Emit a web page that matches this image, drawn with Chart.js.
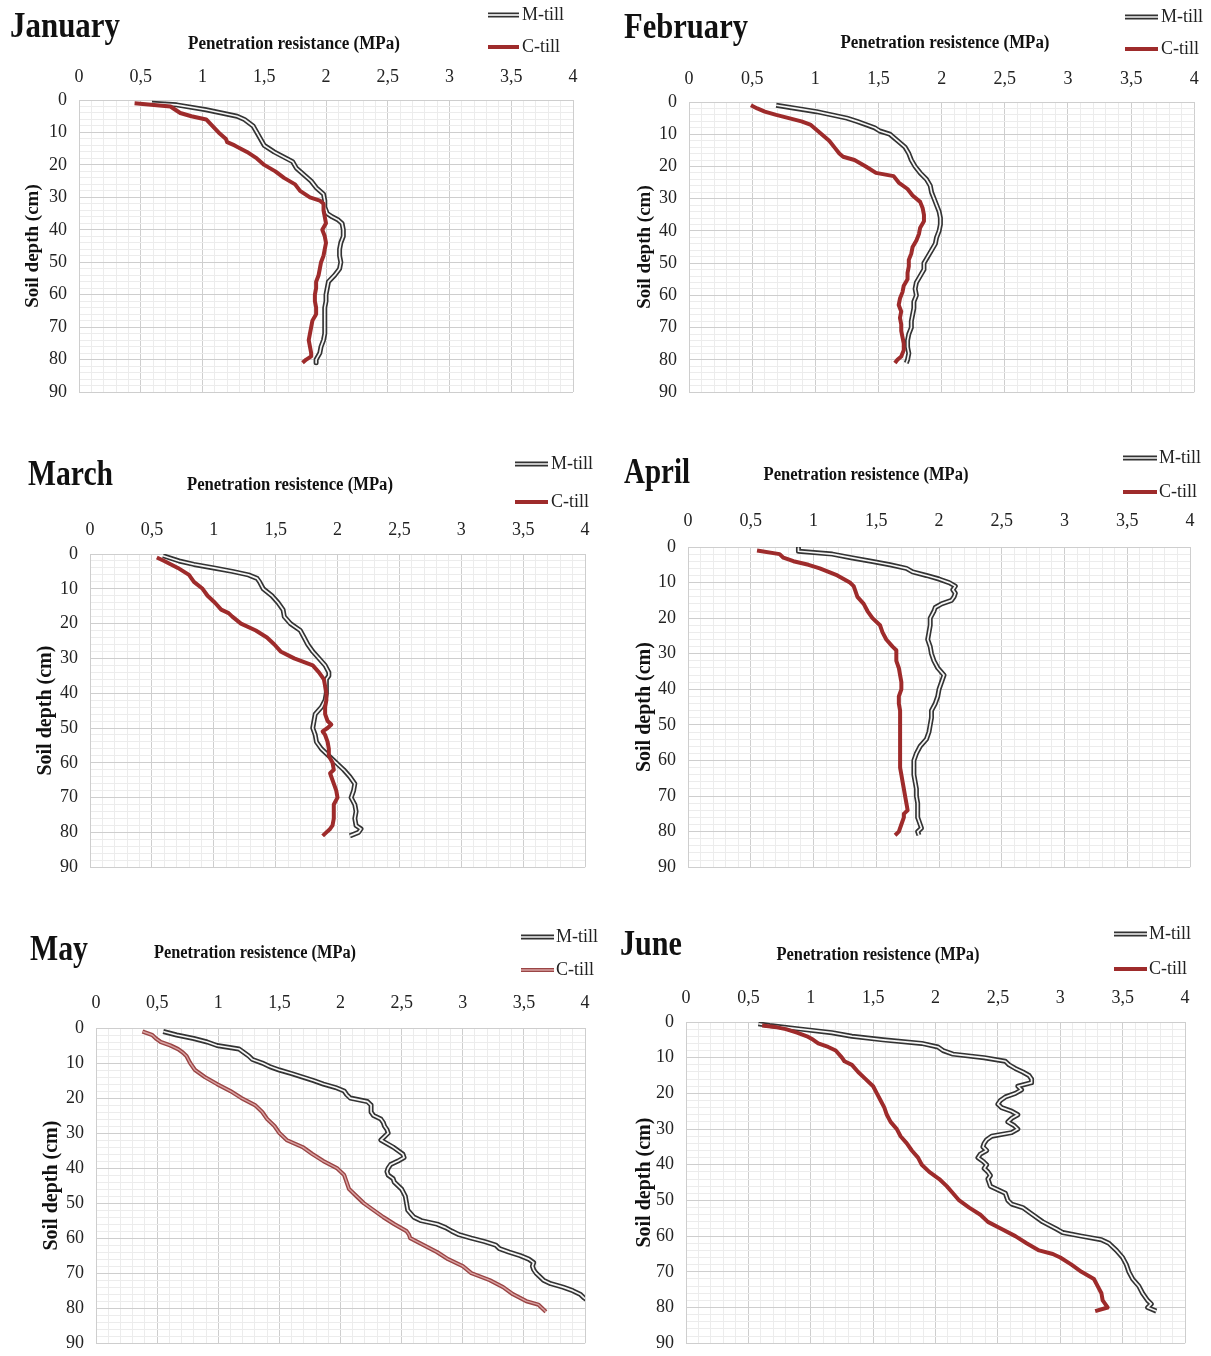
<!DOCTYPE html>
<html>
<head>
<meta charset="utf-8">
<title>Penetration resistance by month</title>
<script src="https://cdn.jsdelivr.net/npm/chart.js@4.4.1/dist/chart.umd.min.js"></script>
<style>
  body { margin: 0; background: #fff; width: 1211px; height: 1356px; position: relative; overflow: hidden; }
  canvas { position: absolute; }
</style>
</head>
<body>
<canvas id="c0"></canvas>
<canvas id="c1"></canvas>
<canvas id="c2"></canvas>
<canvas id="c3"></canvas>
<canvas id="c4"></canvas>
<canvas id="c5"></canvas>
<script>
// ---- data: depth (cm) and penetration resistance (MPa) ----
var janMDepth = [1, 1.5, 3, 5, 6, 8, 10, 12, 14, 16, 18, 19, 21, 23, 25, 27, 28, 29, 31, 33, 35, 36, 37, 38, 40, 42, 44, 46, 48, 50, 52, 54, 56, 58, 60, 62, 64, 66, 68, 70, 72, 74, 76, 78, 80, 81];
var janM = [0.59, 0.79, 1.03, 1.28, 1.34, 1.41, 1.44, 1.47, 1.50, 1.58, 1.68, 1.73, 1.76, 1.82, 1.88, 1.92, 1.95, 1.98, 1.99, 1.99, 2.01, 2.05, 2.10, 2.13, 2.14, 2.14, 2.12, 2.11, 2.11, 2.12, 2.11, 2.07, 2.02, 2.01, 2.00, 2.00, 1.99, 1.99, 1.99, 1.99, 1.99, 1.98, 1.96, 1.95, 1.92, 1.92];
var janCDepth = [1, 2, 4, 5, 6, 8, 10, 12, 13, 14, 16, 18, 20, 22, 24, 26, 28, 30, 31, 32, 34, 36, 38, 40, 42, 44, 46, 48, 50, 52, 54, 56, 58, 60, 62, 64, 66, 68, 70, 72, 74, 76, 78, 79, 80, 81];
var janC = [0.45, 0.74, 0.82, 0.91, 1.03, 1.08, 1.13, 1.19, 1.20, 1.26, 1.36, 1.44, 1.50, 1.59, 1.66, 1.75, 1.79, 1.87, 1.95, 1.98, 1.98, 1.99, 2.00, 1.97, 1.99, 2.00, 1.99, 1.98, 1.96, 1.95, 1.94, 1.92, 1.92, 1.91, 1.91, 1.92, 1.92, 1.89, 1.88, 1.87, 1.86, 1.87, 1.88, 1.88, 1.84, 1.81];

var febMDepth = [1, 2, 3, 4, 5, 6, 7, 8, 9, 10, 12, 14, 16, 18, 20, 22, 24, 26, 28, 30, 32, 34, 36, 38, 40, 42, 44, 46, 48, 50, 52, 54, 56, 58, 60, 62, 64, 66, 68, 70, 72, 74, 76, 78, 80, 81];
var febM = [0.69, 0.85, 1.01, 1.13, 1.25, 1.33, 1.40, 1.47, 1.51, 1.59, 1.65, 1.71, 1.74, 1.76, 1.79, 1.83, 1.88, 1.91, 1.92, 1.94, 1.96, 1.98, 1.99, 1.99, 1.98, 1.96, 1.95, 1.92, 1.89, 1.86, 1.86, 1.83, 1.80, 1.79, 1.80, 1.78, 1.78, 1.77, 1.76, 1.76, 1.74, 1.73, 1.73, 1.74, 1.73, 1.72];
var febCDepth = [1, 2, 3, 4, 5, 6, 7, 8, 10, 12, 14, 16, 17, 18, 20, 22, 23, 25, 27, 29, 31, 33, 35, 37, 39, 41, 43, 45, 47, 49, 51, 53, 55, 57, 59, 61, 63, 65, 67, 69, 71, 73, 75, 77, 79, 80, 81];
var febC = [0.49, 0.54, 0.60, 0.69, 0.79, 0.89, 0.96, 0.99, 1.05, 1.11, 1.15, 1.19, 1.22, 1.31, 1.40, 1.48, 1.62, 1.66, 1.73, 1.77, 1.83, 1.85, 1.86, 1.86, 1.83, 1.82, 1.80, 1.77, 1.76, 1.74, 1.74, 1.73, 1.73, 1.70, 1.69, 1.67, 1.66, 1.68, 1.67, 1.68, 1.68, 1.69, 1.70, 1.70, 1.68, 1.65, 1.63];

var marMDepth = [0.5, 2, 3, 4, 5, 6, 7, 8, 10, 12, 14, 16, 18, 20, 22, 24, 26, 28, 30, 32, 34, 35, 36, 38, 40, 42, 44, 46, 48, 50, 52, 54, 56, 58, 60, 62, 64, 66, 68, 70, 72, 74, 76, 78, 79, 80, 81];
var marM = [0.59, 0.72, 0.84, 1.00, 1.15, 1.28, 1.35, 1.37, 1.40, 1.47, 1.52, 1.56, 1.57, 1.62, 1.70, 1.73, 1.76, 1.80, 1.85, 1.90, 1.93, 1.93, 1.91, 1.91, 1.91, 1.90, 1.87, 1.82, 1.81, 1.80, 1.82, 1.83, 1.87, 1.93, 1.99, 2.05, 2.10, 2.14, 2.13, 2.11, 2.14, 2.15, 2.14, 2.15, 2.19, 2.17, 2.10];
var marCDepth = [1, 2, 4, 6, 8, 10, 12, 14, 16, 17, 18, 20, 22, 24, 26, 28, 30, 32, 34, 36, 38, 40, 42, 44, 46, 48, 49, 50, 51, 52, 54, 56, 58, 60, 62, 63, 64, 66, 68, 70, 72, 74, 76, 78, 79, 80, 81];
var marC = [0.54, 0.60, 0.71, 0.80, 0.84, 0.91, 0.95, 1.01, 1.06, 1.12, 1.15, 1.22, 1.34, 1.43, 1.49, 1.54, 1.65, 1.80, 1.85, 1.89, 1.90, 1.91, 1.91, 1.90, 1.90, 1.92, 1.95, 1.92, 1.88, 1.90, 1.92, 1.93, 1.93, 1.96, 1.97, 1.94, 1.95, 1.97, 1.99, 2.00, 1.97, 1.97, 1.97, 1.96, 1.94, 1.91, 1.88];

var aprMDepth = [0.3, 1.2, 2, 3, 4, 5, 6, 7, 8, 9, 10, 11, 12, 13, 14, 15, 16, 17, 18, 20, 22, 24, 26, 28, 30, 32, 34, 36, 38, 40, 42, 44, 46, 48, 50, 52, 54, 56, 58, 60, 62, 64, 66, 68, 70, 72, 74, 76, 78, 79, 80, 81];
var aprM = [0.88, 0.88, 1.15, 1.30, 1.46, 1.61, 1.74, 1.79, 1.90, 2.00, 2.08, 2.13, 2.11, 2.13, 2.12, 2.10, 2.02, 1.97, 1.96, 1.93, 1.93, 1.92, 1.91, 1.93, 1.94, 1.96, 1.99, 2.04, 2.02, 2.00, 1.99, 1.97, 1.94, 1.94, 1.93, 1.92, 1.90, 1.85, 1.82, 1.80, 1.80, 1.80, 1.81, 1.82, 1.82, 1.83, 1.83, 1.83, 1.85, 1.86, 1.83, 1.84];
var aprCDepth = [1, 2, 3, 4, 5, 6, 7, 8, 9, 10, 11, 12, 14, 16, 18, 20, 22, 24, 26, 28, 29, 32, 34, 36, 38, 40, 42, 44, 46, 50, 54, 58, 62, 64, 66, 68, 70, 72, 74, 75, 76, 78, 80, 81];
var aprC = [0.55, 0.73, 0.76, 0.84, 0.96, 1.05, 1.12, 1.19, 1.24, 1.29, 1.32, 1.33, 1.35, 1.40, 1.43, 1.47, 1.53, 1.55, 1.58, 1.63, 1.66, 1.66, 1.68, 1.69, 1.70, 1.70, 1.68, 1.68, 1.69, 1.69, 1.69, 1.69, 1.69, 1.70, 1.71, 1.72, 1.73, 1.74, 1.75, 1.72, 1.72, 1.70, 1.68, 1.65];

var mayMDepth = [1, 2, 3, 4, 5, 6, 7, 8, 9, 10, 11, 12, 13, 14, 15, 16, 17, 18, 19, 20, 21, 22, 24, 25, 26, 27, 28, 29, 30, 31, 32, 33, 34, 35, 36, 37, 38, 39, 40, 41, 42, 43, 44, 46, 48, 50, 52, 54, 55, 56, 57, 58, 59, 60, 61, 62, 63, 64, 65, 66, 67, 68, 69, 70, 71, 72, 73, 74, 75, 76, 77, 78];
var mayM = [0.55, 0.66, 0.80, 0.91, 0.99, 1.17, 1.21, 1.25, 1.28, 1.36, 1.42, 1.50, 1.60, 1.69, 1.78, 1.86, 1.96, 2.03, 2.05, 2.08, 2.22, 2.25, 2.25, 2.27, 2.33, 2.35, 2.36, 2.38, 2.39, 2.36, 2.33, 2.38, 2.43, 2.47, 2.51, 2.52, 2.47, 2.41, 2.39, 2.38, 2.39, 2.43, 2.44, 2.50, 2.53, 2.54, 2.55, 2.60, 2.66, 2.79, 2.86, 2.91, 2.97, 3.07, 3.18, 3.27, 3.30, 3.38, 3.47, 3.54, 3.58, 3.57, 3.58, 3.60, 3.63, 3.66, 3.72, 3.82, 3.90, 3.96, 3.99, 4.03];
var mayCDepth = [1, 1.5, 2, 3, 4, 5, 6, 7, 8, 10, 12, 14, 16, 18, 20, 22, 24, 26, 28, 30, 32, 34, 36, 38, 40, 42, 44, 46, 48, 50, 52, 54, 56, 58, 59, 60, 62, 64, 66, 68, 70, 72, 74, 76, 78, 79, 80, 81];
var mayC = [0.38, 0.42, 0.46, 0.49, 0.53, 0.61, 0.67, 0.71, 0.74, 0.77, 0.81, 0.89, 0.99, 1.10, 1.19, 1.30, 1.36, 1.40, 1.46, 1.50, 1.56, 1.69, 1.77, 1.86, 1.97, 2.03, 2.05, 2.07, 2.13, 2.19, 2.27, 2.35, 2.44, 2.54, 2.56, 2.57, 2.68, 2.79, 2.88, 3.00, 3.07, 3.22, 3.33, 3.41, 3.52, 3.62, 3.65, 3.68];

var junMDepth = [0.5, 1, 2, 3, 4, 5, 6, 7, 8, 9, 10, 11, 12, 13, 14, 15, 16, 17, 18, 19, 20, 21, 22, 23, 24, 25, 26, 27, 28, 29, 30, 31, 32, 33, 34, 35, 36, 37, 38, 39, 40, 41, 42, 43, 44, 46, 48, 50, 51, 52, 54, 56, 58, 59, 60, 61, 62, 64, 66, 68, 70, 72, 74, 76, 78, 79, 80, 81];
var junM = [0.58, 0.67, 0.92, 1.17, 1.33, 1.58, 1.89, 2.02, 2.06, 2.14, 2.39, 2.56, 2.59, 2.64, 2.70, 2.75, 2.77, 2.77, 2.66, 2.69, 2.64, 2.56, 2.52, 2.50, 2.53, 2.61, 2.66, 2.61, 2.58, 2.63, 2.66, 2.61, 2.45, 2.41, 2.39, 2.38, 2.41, 2.36, 2.34, 2.38, 2.41, 2.39, 2.42, 2.44, 2.42, 2.44, 2.56, 2.58, 2.61, 2.70, 2.78, 2.86, 2.97, 3.02, 3.17, 3.33, 3.39, 3.45, 3.50, 3.53, 3.55, 3.58, 3.63, 3.66, 3.70, 3.73, 3.70, 3.77];
var junCDepth = [1, 1.5, 2, 3, 4, 5, 6, 7, 8, 10, 11, 12, 14, 16, 18, 20, 22, 24, 26, 28, 30, 32, 34, 36, 38, 40, 42, 44, 46, 48, 50, 52, 54, 56, 58, 60, 62, 64, 65, 66, 68, 70, 72, 74, 76, 78, 79, 80, 81];
var junC = [0.61, 0.73, 0.80, 0.89, 0.97, 1.02, 1.06, 1.14, 1.20, 1.25, 1.27, 1.33, 1.38, 1.44, 1.50, 1.53, 1.56, 1.59, 1.61, 1.64, 1.69, 1.72, 1.77, 1.81, 1.86, 1.89, 1.95, 2.03, 2.09, 2.14, 2.19, 2.27, 2.36, 2.42, 2.53, 2.64, 2.73, 2.83, 2.94, 3.00, 3.09, 3.17, 3.27, 3.30, 3.33, 3.34, 3.36, 3.38, 3.28];

var months = ['January', 'February', 'March', 'April', 'May', 'June'];
var axisTitles = ['Penetration resistance (MPa)', 'Penetration resistence (MPa)', 'Penetration resistence (MPa)',
                  'Penetration resistence (MPa)', 'Penetration resistence (MPa)', 'Penetration resistence (MPa)'];
var seriesNames = ['M-till', 'C-till'];

var series = [
  [janMDepth, janM, janCDepth, janC],
  [febMDepth, febM, febCDepth, febC],
  [marMDepth, marM, marCDepth, marC],
  [aprMDepth, aprM, aprCDepth, aprC],
  [mayMDepth, mayM, mayCDepth, mayC],
  [junMDepth, junM, junCDepth, junC]
];

// ---- layout of each panel on the page (pixels) ----
var boxes = [
  { canvas: [0, 0, 605, 420],     plot: [79, 100, 573, 392],   tickGap: 23, yTitleX: 33, yTitleSize: 19,
    head: [10, 37, 110],  axis: [294, 44, 212],  legend: [488, 519, 522, 15, 47] },
  { canvas: [605, 0, 606, 420],   plot: [689, 102, 1199, 392], tickGap: 23, yTitleX: 645, yTitleSize: 19,
    head: [624, 38, 124], axis: [945, 43, 209],  legend: [1125, 1158, 1161, 17, 49] },
  { canvas: [0, 420, 605, 470],   plot: [90, 554, 585, 869],   tickGap: 24, yTitleX: 46, yTitleSize: 20,
    head: [28, 485, 85],  axis: [290, 485, 206], legend: [515, 548, 551, 464, 502] },
  { canvas: [605, 420, 606, 470], plot: [688, 547, 1190, 871], tickGap: 26, yTitleX: 645, yTitleSize: 20,
    head: [624, 483, 66], axis: [866, 475, 205], legend: [1123, 1157, 1159, 458, 492] },
  { canvas: [0, 890, 605, 476],   plot: [96, 1028, 585, 1347], tickGap: 25, yTitleX: 52, yTitleSize: 20,
    head: [30, 960, 58],  axis: [255, 953, 202], legend: [521, 554, 556, 937, 970] },
  { canvas: [605, 890, 606, 476], plot: [686, 1022, 1185, 1347], tickGap: 24, yTitleX: 645, yTitleSize: 20,
    head: [620, 955, 62], axis: [878, 955, 203], legend: [1114, 1147, 1149, 934, 969] }
];

var GRAY = '#333333';
var CORE = '#f6f6f6';
var RED = '#9e2b2b';
var MAY_RED = '#9a4545';
var MAY_CORE = '#d9a3a3';
var MAJOR = 'rgb(206,206,206)';
var MINOR = 'rgb(236,236,236)';
var SERIF = '"Liberation Serif", "Times New Roman", serif';
var TICK_SIZE = 18;

function points(depths, values) {
  return depths.map(function (d, i) { return { x: values[i], y: d }; });
}
function isMult(v, step) {
  var q = v / step;
  return Math.abs(q - Math.round(q)) < 1e-6;
}

// draws text squeezed to a given width (the original uses a narrow serif)
function squeezed(ctx, text, x, y, width, align) {
  var natural = ctx.measureText(text).width;
  ctx.save();
  ctx.translate(x, y);
  ctx.scale(width / natural, 1);
  ctx.textAlign = align;
  ctx.fillText(text, 0, 0);
  ctx.restore();
}

function textPlugin(i) {
  var b = boxes[i];
  return {
    id: 'panelText',
    afterDraw: function (chart) {
      var c = chart.ctx, ox = b.canvas[0], oy = b.canvas[1];
      var lg = b.legend;
      c.save();
      c.fillStyle = '#111';
      c.textBaseline = 'alphabetic';
      c.font = 'bold 35px ' + SERIF;
      squeezed(c, months[i], b.head[0] - ox, b.head[1] - oy, b.head[2], 'left');
      c.textBaseline = 'middle';
      c.font = 'bold 18px ' + SERIF;
      squeezed(c, axisTitles[i], b.axis[0] - ox, b.axis[1] - oy, b.axis[2], 'center');

      // legend
      c.lineCap = 'butt';
      c.beginPath();
      c.moveTo(lg[0] - ox, lg[3] - oy); c.lineTo(lg[1] - ox, lg[3] - oy);
      c.strokeStyle = GRAY; c.lineWidth = 5; c.stroke();
      c.strokeStyle = CORE; c.lineWidth = 1.7; c.stroke();
      c.beginPath();
      c.moveTo(lg[0] - ox, lg[4] - oy); c.lineTo(lg[1] - ox, lg[4] - oy);
      c.strokeStyle = i === 4 ? MAY_RED : RED; c.lineWidth = 4; c.stroke();
      if (i === 4) { c.strokeStyle = MAY_CORE; c.lineWidth = 1.4; c.stroke(); }
      c.fillStyle = '#222';
      c.font = '19px ' + SERIF;
      c.textAlign = 'left';
      squeezed(c, seriesNames[0], lg[2] - ox, lg[3] - oy, 42, 'left');
      squeezed(c, seriesNames[1], lg[2] - ox, lg[4] - oy, 38, 'left');
      c.restore();
    }
  };
}

function gridColor(step) {
  return function (ctx) {
    return ctx.tick && isMult(ctx.tick.value, step) ? MAJOR : MINOR;
  };
}

boxes.forEach(function (b, i) {
  var cv = document.getElementById('c' + i);
  cv.width = b.canvas[2];
  cv.height = b.canvas[3];
  cv.style.left = b.canvas[0] + 'px';
  cv.style.top = b.canvas[1] + 'px';

  var s = series[i];
  var mPts = points(s[0], s[1]);
  var cPts = points(s[2], s[3]);
  var may = i === 4;

  var datasets = [
    { label: seriesNames[1], data: cPts, borderColor: may ? MAY_RED : RED, borderWidth: may ? 4.2 : 4, order: 1 },
    { label: seriesNames[0] + ' core', data: mPts, borderColor: CORE, borderWidth: 1.7, order: 2 },
    { label: seriesNames[0], data: mPts, borderColor: GRAY, borderWidth: 5, order: 3 }
  ];
  if (may) {
    datasets.unshift({ label: seriesNames[1] + ' core', data: cPts, borderColor: MAY_CORE, borderWidth: 1.4, order: 0 });
  }
  datasets.forEach(function (d) {
    d.showLine = true;
    d.pointRadius = 0;
    d.tension = 0;
    d.borderJoinStyle = 'round';
    d.fill = false;
  });

  var tickFont = { family: SERIF, size: TICK_SIZE };

  new Chart(cv.getContext('2d'), {
    type: 'scatter',
    data: { datasets: datasets },
    options: {
      responsive: false,
      animation: false,
      events: [],
      layout: {
        padding: {
          left: 0, top: 0,
          right: b.canvas[0] + b.canvas[2] - b.plot[2],
          bottom: b.canvas[1] + b.canvas[3] - b.plot[3]
        }
      },
      plugins: { legend: { display: false }, tooltip: { enabled: false }, title: { display: false } },
      scales: {
        x: {
          type: 'linear',
          position: 'top',
          min: 0, max: 4,
          ticks: {
            stepSize: 0.1,
            autoSkip: false,
            maxRotation: 0,
            padding: b.tickGap - TICK_SIZE * 0.6,
            font: tickFont,
            color: '#222',
            callback: function (v) {
              if (!isMult(v, 0.5)) return '';
              return String(Math.round(v * 2) / 2).replace('.', ',');
            }
          },
          grid: { color: gridColor(0.5), lineWidth: 1, drawTicks: false },
          border: { color: MAJOR },
          afterFit: function (scale) { scale.height = b.plot[1] - b.canvas[1]; }
        },
        y: {
          type: 'linear',
          reverse: true,
          min: 0, max: 90,
          ticks: {
            stepSize: 2,
            autoSkip: false,
            padding: 12,
            font: tickFont,
            color: '#222',
            callback: function (v) { return isMult(v, 10) ? String(Math.round(v)) : ''; }
          },
          grid: { color: gridColor(10), lineWidth: 1, drawTicks: false },
          border: { color: MAJOR },
          title: {
            display: true,
            text: 'Soil depth (cm)',
            color: '#111',
            font: { family: SERIF, size: b.yTitleSize, weight: 'bold' },
            padding: { top: b.yTitleX - b.canvas[0] - b.yTitleSize * 0.6, bottom: 0 }
          },
          afterFit: function (scale) { scale.width = b.plot[0] - b.canvas[0]; }
        }
      }
    },
    plugins: [textPlugin(i)]
  });
});
</script>
</body>
</html>
